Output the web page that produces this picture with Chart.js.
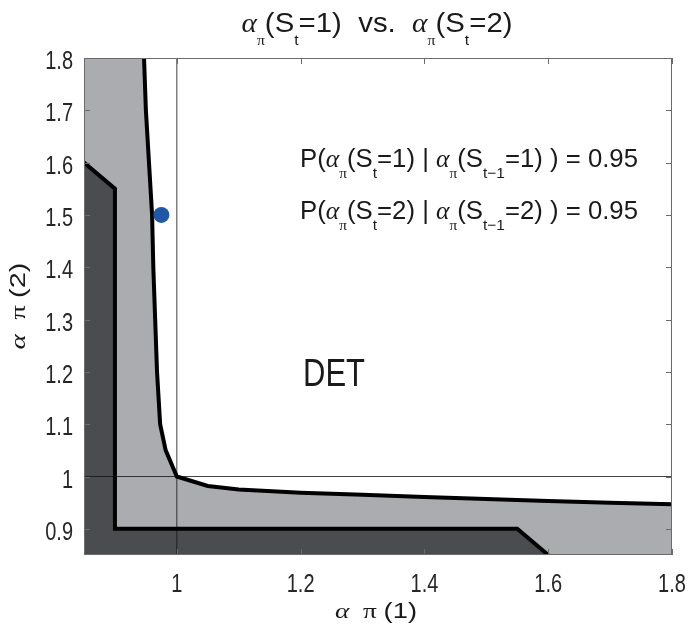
<!DOCTYPE html>
<html>
<head>
<meta charset="utf-8">
<script src="https://cdn.jsdelivr.net/npm/chart.js@4.4.1/dist/chart.umd.min.js"></script>
<style>
  html, body { margin: 0; padding: 0; background: #fff; }
  #wrap { width: 689px; height: 633px; }
</style>
</head>
<body>
<div id="wrap"><canvas id="grafico"></canvas></div>
<script>
// limites de los ejes y marcas
const xRange = [0.85, 1.8];
const yRange = [0.85, 1.8];
const xTicks = [1, 1.2, 1.4, 1.6, 1.8];
const yTicks = [0.9, 1, 1.1, 1.2, 1.3, 1.4, 1.5, 1.6, 1.7, 1.8];
const xTickLabels = ['1', '1.2', '1.4', '1.6', '1.8'];
const yTickLabels = ['0.9', '1', '1.1', '1.2', '1.3', '1.4', '1.5', '1.6', '1.7', '1.8'];

// frontera exterior (curva negra gruesa)
const curvaX = [0.947, 0.95, 0.955, 0.96, 0.962, 0.965, 0.968, 0.973, 0.982, 1, 1.05, 1.1, 1.2, 1.3, 1.4, 1.5, 1.6, 1.7, 1.8];
const curvaY = [1.8, 1.7, 1.6, 1.5, 1.4, 1.3, 1.2, 1.1, 1.05, 1, 0.982, 0.975, 0.969, 0.965, 0.961, 0.957, 0.953, 0.95, 0.947];

// frontera interior (region oscura)
const interiorX = [0.85, 0.9, 0.9, 1.55, 1.6];
const interiorY = [1.6, 1.55, 0.9, 0.9, 0.85];

// punto azul
const puntoX = [0.975];
const puntoY = [1.5];

// lineas de referencia en 1
const refValor = [1];

function pts(xs, ys) {
    return xs.map(function(v, i) { return { x: v, y: ys[i] }; });
}

var zonaClara = [{ x: xRange[0], y: yRange[1] }]
    .concat(pts(curvaX, curvaY))
    .concat([{ x: xRange[1], y: yRange[0] }, { x: xRange[0], y: yRange[0] }, { x: xRange[0], y: yRange[1] }]);

var zonaOscura = pts(interiorX, interiorY)
    .concat([{ x: xRange[0], y: yRange[0] }, { x: interiorX[0], y: interiorY[0] }]);

const SANS = "'Liberation Sans', Arial, sans-serif";
const SERIF = "'Liberation Serif', 'DejaVu Serif', serif";

// dibuja texto con partes (texto, fuente, desplazamiento vertical), comprimido en horizontal
function texto(ctx, partes, x, y, align, opt) {
    var w = 0;
    partes.forEach(function(p) { ctx.font = p[1]; w += ctx.measureText(p[0]).width; });
    var k = opt.ancho ? opt.ancho / w : opt.k;
    ctx.save();
    ctx.translate(x, y);
    ctx.scale(k, 1);
    var cx = align === 'center' ? -w / 2 : (align === 'right' ? -w : 0);
    partes.forEach(function(p) {
        ctx.font = p[1];
        ctx.fillText(p[0], cx, p[2] || 0);
        cx += ctx.measureText(p[0]).width;
    });
    ctx.restore();
}

const overlay = {
    id: 'overlay',
    afterDatasetsDraw(chart) {
        const ctx = chart.ctx;
        const a = chart.chartArea;
        const x = chart.scales.x, y = chart.scales.y;
        ctx.save();
        ctx.strokeStyle = '#6b6b6b';
        ctx.lineWidth = 1;
        ctx.beginPath();
        xTicks.forEach(function(v) {
            var px = Math.round(x.getPixelForValue(v)) + 0.5;
            ctx.moveTo(px, a.bottom); ctx.lineTo(px, a.bottom - 6);
            ctx.moveTo(px, a.top); ctx.lineTo(px, a.top + 6);
        });
        yTicks.forEach(function(v) {
            var py = Math.round(y.getPixelForValue(v)) + 0.5;
            ctx.moveTo(a.left, py); ctx.lineTo(a.left + 6, py);
            ctx.moveTo(a.right, py); ctx.lineTo(a.right - 6, py);
        });
        ctx.stroke();
        ctx.strokeRect(a.left + 0.5, a.top + 0.5, a.width - 1, a.height - 1);

        ctx.fillStyle = '#262626';
        ctx.textBaseline = 'alphabetic';
        var nt = '25px ' + SANS;
        xTicks.forEach(function(v, i) {
            texto(ctx, [[xTickLabels[i], nt]], x.getPixelForValue(v), 592, 'center', { k: 0.8 });
        });
        yTicks.forEach(function(v, i) {
            texto(ctx, [[yTickLabels[i], nt]], 73, y.getPixelForValue(v) + 11, 'right', { k: 0.8 });
        });

        ctx.fillStyle = '#1a1a1a';
        var g28 = 'italic 28px ' + SERIF, s15 = '15px ' + SERIF, n28 = '28px ' + SANS, n15 = '15px ' + SANS;
        texto(ctx, [
            ['\u03b1', g28], ['\u03c0', s15, 13], ['(S', n28], ['t', n15, 13], ['=1)  vs.  ', n28],
            ['\u03b1', g28], ['\u03c0', s15, 13], ['(S', n28], ['t', n15, 13], ['=2)', n28]
        ], 377, 32, 'center', { ancho: 271 });

        var g25 = 'italic 25px ' + SERIF, s15b = '15px ' + SERIF, n25 = '25px ' + SANS, n15b = '15px ' + SANS;
        [['1', 167], ['2', 219]].forEach(function(l) {
            texto(ctx, [
                ['P(', n25], ['\u03b1', g25], ['\u03c0', s15b, 11], ['(S', n25], ['t', n15b, 11], ['=' + l[0] + ') | ', n25],
                ['\u03b1', g25], ['\u03c0', s15b, 11], ['(S', n25], ['t\u22121', n15b, 11], ['=' + l[0] + ') ) = 0.95', n25]
            ], 300, l[1], 'left', { ancho: 338 });
        });

        texto(ctx, [['DET', '38px ' + SANS]], 303, 386, 'left', { ancho: 62 });

        var ga = 'italic 22px ' + SERIF, gp = '22px ' + SERIF, na = '22px ' + SANS;
        texto(ctx, [['\u03b1', ga], ['  \u03c0 ', gp], ['(1)', na]], 376, 618, 'center', { ancho: 82 });

        ctx.translate(25, 306);
        ctx.rotate(-Math.PI / 2);
        texto(ctx, [['\u03b1', ga], ['  \u03c0 ', gp], ['(2)', na]], 0, 0, 'center', { ancho: 87 });
        ctx.restore();
    }
};

function fijarTicks(lista) {
    return function(scale) { scale.ticks = lista.map(function(v) { return { value: v }; }); };
}

new Chart(document.getElementById('grafico'), {
    type: 'scatter',
    data: {
        datasets: [
            { data: zonaClara, showLine: true, fill: 'shape', backgroundColor: '#abacb0', borderWidth: 0, pointRadius: 0, order: 6 },
            { data: zonaOscura, showLine: true, fill: 'shape', backgroundColor: '#4b4c4f', borderWidth: 0, pointRadius: 0, order: 5 },
            { data: pts([refValor[0], refValor[0]], yRange), showLine: true, borderColor: 'rgba(20,20,20,0.8)', borderWidth: 1, pointRadius: 0, order: 4 },
            { data: pts(xRange, [refValor[0], refValor[0]]), showLine: true, borderColor: 'rgba(20,20,20,0.8)', borderWidth: 1, pointRadius: 0, order: 4 },
            { data: pts(interiorX, interiorY), showLine: true, borderColor: '#000', borderWidth: 4, pointRadius: 0, order: 3 },
            { data: pts(curvaX, curvaY), showLine: true, borderColor: '#000', borderWidth: 4, pointRadius: 0, order: 2 },
            { data: pts(puntoX, puntoY), pointRadius: 8, pointBackgroundColor: '#2157a7', pointBorderWidth: 0, order: 1 }
        ]
    },
    options: {
        responsive: true,
        maintainAspectRatio: false,
        animation: false,
        layout: { padding: { top: 58, right: 17, left: 0, bottom: 0 } },
        plugins: { legend: { display: false }, tooltip: { enabled: false } },
        scales: {
            x: {
                type: 'linear', min: xRange[0], max: xRange[1],
                afterBuildTicks: fijarTicks(xTicks),
                afterFit: function(s) { s.height = 78; s.paddingLeft = 0; s.paddingRight = 0; },
                grid: { display: false }, border: { display: false },
                ticks: { display: false }
            },
            y: {
                type: 'linear', min: yRange[0], max: yRange[1],
                afterBuildTicks: fijarTicks(yTicks),
                afterFit: function(s) { s.width = 84; s.paddingTop = 0; s.paddingBottom = 0; },
                grid: { display: false }, border: { display: false },
                ticks: { display: false }
            }
        }
    },
    plugins: [overlay]
});
</script>
</body>
</html>
